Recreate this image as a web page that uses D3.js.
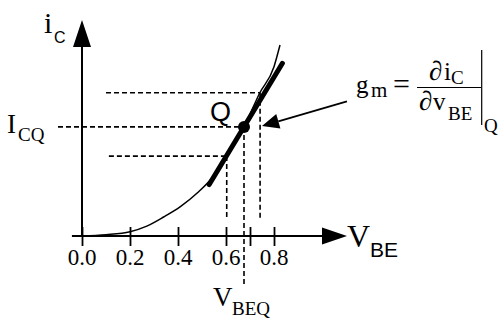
<!DOCTYPE html>
<html>
<head>
<meta charset="utf-8">
<script src="https://cdn.jsdelivr.net/npm/d3@7"></script>
<style>
body { margin: 0; background: #fff; }
text { fill: #000; }
.serif { font-family: "Liberation Serif", "Times New Roman", serif; }
.sans { font-family: "Liberation Sans", Arial, sans-serif; }
</style>
</head>
<body>
<script>
// curve (v_BE in volts, i_C in relative units)
var vbe = [0, 0.1, 0.2, 0.27, 0.34, 0.41, 0.48, 0.55, 0.60, 0.675, 0.74, 0.80, 0.825];
var ic = [0, 0.006, 0.020, 0.046, 0.088, 0.136, 0.199, 0.280, 0.367, 0.505, 0.661, 0.784, 0.884];

var tickVals = [0, 0.2, 0.4, 0.6, 0.8];
var tickLabels = ["0.0", "0.2", "0.4", "0.6", "0.8"];
var extraTick = [0.7];

var qPoint = [0.675, 0.505];
var lowPoint = [0.603, 0.370];
var highPoint = [0.742, 0.663];
var slope = 1.84;

var width = 501, height = 320;

var svg = d3.select("body").append("svg")
  .attr("width", width)
  .attr("height", height);

var x = d3.scaleLinear().domain([0, 1]).range([82, 322]);
var y = d3.scaleLinear().domain([0, 1]).range([236, 20]);

// dashed guides
var dashes = [
  [[0.1, highPoint[1]], highPoint],
  [[-0.1, qPoint[1]], qPoint],
  [[0.112, lowPoint[1]], lowPoint],
  [lowPoint, [lowPoint[0], 0.074]],
  [highPoint, [highPoint[0], 0.074]],
  [qPoint, [qPoint[0], -0.227]]
];
svg.selectAll("line.dash")
  .data(dashes)
  .enter()
  .append("line")
  .attr("class", "dash")
  .attr("x1", function(d){ return x(d[0][0]); })
  .attr("y1", function(d){ return y(d[0][1]); })
  .attr("x2", function(d){ return x(d[1][0]); })
  .attr("y2", function(d){ return y(d[1][1]); })
  .style("stroke", "#000")
  .style("stroke-width", 1.6)
  .style("stroke-dasharray", "5,3");

// axes
svg.append("line")
  .attr("x1", x(-0.042)).attr("y1", y(0))
  .attr("x2", x(1.0)).attr("y2", y(0))
  .style("stroke", "#000").style("stroke-width", 2);
svg.append("path")
  .attr("d", "M" + x(1.0) + "," + (y(0) - 8.5) + "L" + (x(1.0) + 25) + "," + y(0) + "L" + x(1.0) + "," + (y(0) + 8.5) + "Z")
  .style("fill", "#000");

svg.append("line")
  .attr("x1", x(0)).attr("y1", y(0))
  .attr("x2", x(0)).attr("y2", y(0.88))
  .style("stroke", "#000").style("stroke-width", 2);
svg.append("path")
  .attr("d", "M" + (x(0) - 9) + "," + y(0.875) + "L" + x(0) + "," + (y(0.875) - 27) + "L" + (x(0) + 9) + "," + y(0.875) + "Z")
  .style("fill", "#000");

var xAxis = d3.axisBottom(x)
  .tickValues(tickVals.concat(extraTick))
  .tickSize(0)
  .tickFormat("");
var gx = svg.append("g")
  .attr("transform", "translate(0," + y(0) + ")")
  .call(xAxis);
gx.select(".domain").remove();
gx.selectAll(".tick line")
  .attr("y1", -9)
  .attr("y2", 10)
  .style("stroke", "#000")
  .style("stroke-width", 1.8);

svg.selectAll("text.tick")
  .data(tickVals)
  .enter()
  .append("text")
  .attr("class", "tick serif")
  .attr("x", function(d){ return x(d); })
  .attr("y", 265)
  .attr("text-anchor", "middle")
  .style("font-size", "23px")
  .text(function(d, i){ return tickLabels[i]; });

// characteristic curve
var line = d3.line()
  .x(function(d){ return x(d[0]); })
  .y(function(d){ return y(d[1]); })
  .curve(d3.curveMonotoneX);
svg.append("path")
  .datum(vbe.map(function(v, i){ return [v, ic[i]]; }))
  .attr("d", line)
  .style("fill", "none")
  .style("stroke", "#000")
  .style("stroke-width", 1.5);

// tangent at Q
var t0 = 0.530, t1 = 0.835;
svg.append("line")
  .attr("x1", x(t0)).attr("y1", y(qPoint[1] + slope * (t0 - qPoint[0])))
  .attr("x2", x(t1)).attr("y2", y(qPoint[1] + slope * (t1 - qPoint[0])))
  .style("stroke", "#000")
  .style("stroke-width", 5)
  .style("stroke-linecap", "round");

svg.append("circle")
  .attr("cx", x(qPoint[0]))
  .attr("cy", y(qPoint[1]))
  .attr("r", 6)
  .style("fill", "#000");

// arrow pointing to the tangent
var aStart = [x(1.104), y(0.623)];
var aTip = [x(0.75), y(0.509)];
var ang = Math.atan2(aTip[1] - aStart[1], aTip[0] - aStart[0]);
var aLen = 17, aHalf = 7.5;
var bx = aTip[0] - aLen * Math.cos(ang), by = aTip[1] - aLen * Math.sin(ang);
svg.append("line")
  .attr("x1", aStart[0]).attr("y1", aStart[1])
  .attr("x2", bx).attr("y2", by)
  .style("stroke", "#000").style("stroke-width", 1.8);
svg.append("path")
  .attr("d", "M" + aTip[0] + "," + aTip[1] +
    "L" + (bx - aHalf * Math.sin(ang)) + "," + (by + aHalf * Math.cos(ang)) +
    "L" + (bx + aHalf * Math.sin(ang)) + "," + (by - aHalf * Math.cos(ang)) + "Z")
  .style("fill", "#000");

// labels
function label(cls, px, py, size, str) {
  return svg.append("text")
    .attr("class", cls)
    .attr("x", px)
    .attr("y", py)
    .style("font-size", size + "px")
    .text(str);
}

label("serif", 44, 33, 30, "i");
label("sans", 54, 43, 16, "C");

label("serif", 7, 133, 27, "I");
label("serif", 18, 141, 19, "CQ");

label("sans", 210, 121, 27, "Q");

label("serif", 347, 247, 32, "V");
label("sans", 370, 257, 21, "BE");

label("serif", 213, 306, 27, "V");
label("serif", 232, 315, 19, "BEQ");

// g_m formula
label("serif", 356, 93, 25, "g");
label("serif", 371, 97, 21, "m");
label("serif", 393, 94, 30, "=");
label("serif", 429, 80, 27, "\u2202");
label("serif", 444, 80, 25, "i");
label("serif", 451, 84, 19, "C");
label("serif", 419, 110, 27, "\u2202");
label("serif", 433, 110, 25, "v");
label("serif", 448, 120, 19, "BE");
label("serif", 484, 132, 19, "Q");

svg.append("line")
  .attr("x1", 417).attr("y1", 87.5)
  .attr("x2", 481).attr("y2", 87.5)
  .style("stroke", "#000").style("stroke-width", 1.2);
svg.append("line")
  .attr("x1", 481.7).attr("y1", 50)
  .attr("x2", 481.7).attr("y2", 125)
  .style("stroke", "#000").style("stroke-width", 1.2);
</script>
</body>
</html>
